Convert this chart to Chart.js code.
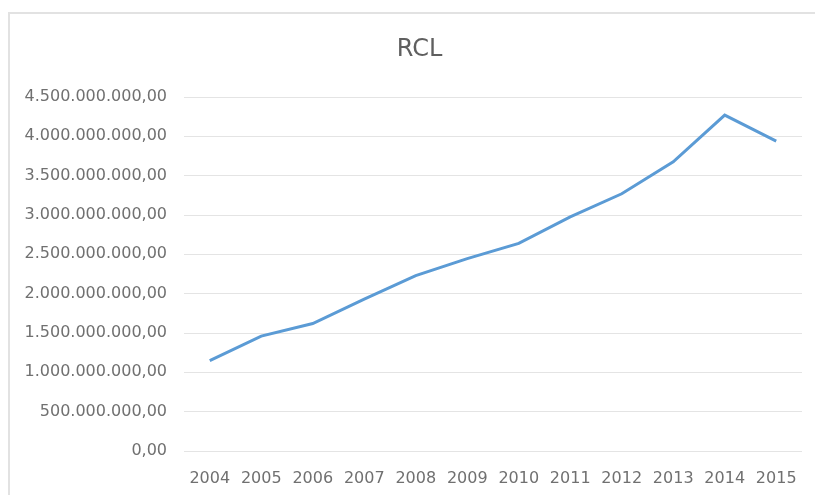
<!DOCTYPE html>
<html>
<head>
<meta charset="utf-8">
<script src="https://cdn.jsdelivr.net/npm/chart.js@4.4.1/dist/chart.umd.min.js"></script>
<style>
  html, body { margin: 0; padding: 0; background: #fff; }
  #wrap { position: relative; width: 815px; height: 495px; overflow: hidden; }
  #frame {
    position: absolute; left: 8px; top: 12px; width: 900px; height: 600px;
    border-left: 2px solid #e2e2e2; border-top: 2px solid #e2e2e2;
  }
  #rcl-chart { position: absolute; left: 0; top: 0; }
</style>
</head>
<body>
<div id="wrap">
  <div id="frame"></div>
  <canvas id="rcl-chart" width="815" height="495"></canvas>
</div>
<script>
const chartTitle = "RCL";
const years = ["2004", "2005", "2006", "2007", "2008", "2009", "2010", "2011", "2012", "2013", "2014", "2015"];
const rclValues = [
  1.15e9, 1.46e9, 1.62e9, 1.93e9, 2.23e9, 2.445e9,
  2.64e9, 2.975e9, 3.27e9, 3.675e9, 4.27e9, 3.94e9,
];
const yMin = 0;
const yMax = 4.5e9;
const yStep = 5e8;

const textGray = "#707070";

// 4500000000 -> "4.500.000.000,00"
function formatBR(value) {
  const parts = Math.round(value).toString().replace(/\B(?=(\d{3})+(?!\d))/g, ".");
  return parts + ",00";
}

// Excel centres the title on the whole chart frame (which starts at x=8 and
// runs off the right edge), not on the canvas, so draw it ourselves.
const frameTitle = {
  id: "frameTitle",
  afterDraw(chart) {
    const c = chart.ctx;
    c.save();
    c.font = "24px 'DejaVu Sans'";
    c.fillStyle = "#5f5f5f";
    c.textAlign = "center";
    c.textBaseline = "middle";
    c.fillText(chartTitle, chart.width / 2 + 12, 50);
    c.restore();
  },
};

function initializeChart() {
  const ctx = document.getElementById("rcl-chart");
  if (!ctx) return;

  new Chart(ctx, {
    type: "line",
    data: {
      labels: years,
      datasets: [
        {
          label: chartTitle,
          data: rclValues,
          borderColor: "#5b9bd5",
          borderWidth: 3,
          pointRadius: 0,
          tension: 0,
          fill: false,
        },
      ],
    },
    options: {
      responsive: false,
      animation: false,
      layout: {
        padding: { top: 97, right: 10, left: 0, bottom: 0 },
      },
      plugins: {
        legend: { display: false },
        tooltip: { enabled: false },
        title: { display: false },
      },
      scales: {
        x: {
          offset: true,
          grid: { display: false, drawTicks: false },
          border: { display: false },
          ticks: {
            color: textGray,
            font: { family: "DejaVu Sans", size: 16 },
            padding: 18,
            maxRotation: 0,
            autoSkip: false,
          },
          afterFit: function (scale) {
            scale.height = 44;
          },
        },
        y: {
          min: yMin,
          max: yMax,
          grid: { color: "#e4e4e4", lineWidth: 1, drawTicks: false },
          border: { display: false },
          ticks: {
            stepSize: yStep,
            color: textGray,
            font: { family: "DejaVu Sans", size: 16 },
            padding: 17,
            callback: function (value) {
              return formatBR(value);
            },
          },
          afterFit: function (scale) {
            scale.width = 184;
          },
        },
      },
    },
    plugins: [frameTitle],
  });
}

if (document.readyState === "loading") {
  document.addEventListener("DOMContentLoaded", initializeChart);
} else {
  initializeChart();
}
</script>
</body>
</html>
